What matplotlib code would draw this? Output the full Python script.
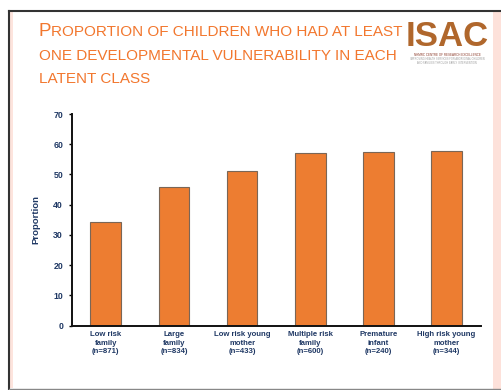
import matplotlib
matplotlib.use("Agg")
import matplotlib.pyplot as plt
from matplotlib.patches import Rectangle

plt.rcParams['font.family'] = ['Liberation Sans', 'DejaVu Sans']

classes = ["Low risk\nfamily\n(n=871)", "Large\nfamily\n(n=834)", "Low risk young\nmother\n(n=433)",
           "Multiple risk\nfamily\n(n=600)", "Premature\ninfant\n(n=240)", "High risk young\nmother\n(n=344)"]
proportion = [34.3, 45.8, 51.1, 57.2, 57.6, 57.9]
yticks = [0, 10, 20, 30, 40, 50, 60, 70]

W, H = 502, 390
orange = "#ED7D31"
title_col = "#F2772E"
navy = "#1F3864"

fig = plt.figure(figsize=(W / 100, H / 100), dpi=100)

def px(x, y):
    return x / W, 1 - y / H

# slide frame
fig.patches.append(Rectangle(px(493, 390), 9 / W, 378 / H, transform=fig.transFigure,
                             facecolor="#FDE1DA", edgecolor="none"))
fig.patches.append(Rectangle(px(10, 388), 3 / W, 377 / H, transform=fig.transFigure,
                             facecolor="#FDE4DD", edgecolor="none"))
fig.lines.append(plt.Line2D([9 / W, 1], [1 - 11 / H] * 2, transform=fig.transFigure,
                            color="#333333", lw=1.5))
fig.lines.append(plt.Line2D([9 / W] * 2, [1 - 11 / H, 1 - 389 / H], transform=fig.transFigure,
                            color="#333333", lw=1.5))
fig.lines.append(plt.Line2D([9 / W, 1], [1 - 389 / H] * 2, transform=fig.transFigure,
                            color="#888888", lw=1.0))

# title in small caps
t1 = fig.text(*px(39, 36), "P", fontsize=13.5, color=title_col, va="baseline")
fig.canvas.draw()
bb = t1.get_window_extent()
fig.text(bb.x1 / W, 1 - 36 / H, "ROPORTION OF CHILDREN WHO HAD AT LEAST", fontsize=11,
         color=title_col, va="baseline")
fig.text(*px(39, 60), "ONE DEVELOPMENTAL VULNERABILITY IN EACH", fontsize=11,
         color=title_col, va="baseline")
fig.text(*px(39, 83), "LATENT CLASS", fontsize=11, color=title_col, va="baseline")

# logo
fig.patches.append(Rectangle(px(403, 68), 88 / W, 52 / H, transform=fig.transFigure,
                             facecolor="white", edgecolor="none"))
fig.text(*px(447, 46), "ISAC", fontsize=25, fontweight="bold", color="#B0672C",
         ha="center", va="baseline")
fig.text(*px(447, 56), "NHMRC CENTRE OF RESEARCH EXCELLENCE", fontsize=2.2,
         color="#8B3A2A", ha="center", va="baseline")
fig.text(*px(447, 60.5), "IMPROVING HEALTH SERVICES FOR ABORIGINAL CHILDREN", fontsize=1.8,
         color="#999999", ha="center", va="baseline")
fig.text(*px(447, 64), "AND FAMILIES THROUGH EARLY INTERVENTION", fontsize=1.8,
         color="#999999", ha="center", va="baseline")

ax = fig.add_axes([71.7 / W, (H - 325.7) / H, (480.7 - 71.7) / W, (325.7 - 114) / H])
x = range(len(classes))
ax.bar(x, proportion, width=0.45, color=orange, edgecolor="#7a6656", linewidth=0.8)
ax.set_xlim(-0.5, 5.5)
ax.set_ylim(0, 70)
ax.set_yticks(yticks)
ax.set_yticklabels([str(v) for v in yticks], fontsize=6.3, fontweight="bold", color=navy)
ax.set_xticks(list(x))
ax.set_xticklabels(classes, fontsize=5.6, fontweight="bold", color=navy, linespacing=1.25)
ax.tick_params(axis="y", length=2.5, width=1, pad=3.7)
ax.tick_params(axis="x", length=0, pad=4)
ax.set_ylabel("Proportion", fontsize=6.8, fontweight="bold", color=navy, labelpad=9)
for s in ["top", "right"]:
    ax.spines[s].set_visible(False)
for s in ["left", "bottom"]:
    ax.spines[s].set_linewidth(1.4)
    ax.spines[s].set_color("#111111")

fig.savefig("out.png", dpi=100)
